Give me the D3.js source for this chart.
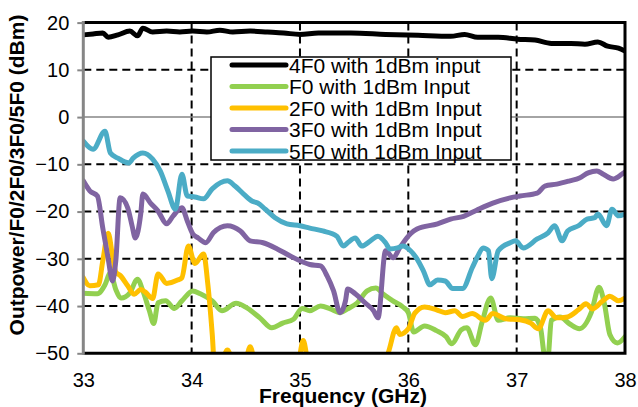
<!DOCTYPE html>
<html><head><meta charset="utf-8">
<script src="https://cdn.jsdelivr.net/npm/d3@7"></script>
<style>html,body{margin:0;padding:0;background:#fff;} svg{display:block;font-family:"Liberation Sans",Arial,sans-serif;}</style>
</head><body><svg id="chart" width="638" height="407"></svg>
<script>
// ---- data ----
const xTicks = [33, 34, 35, 36, 37, 38];
const yTicks = [20, 10, 0, -10, -20, -30, -40, -50];
const xTitle = "Frequency (GHz)";
const yTitle = "Outpower/F0/2F0/3F0/5F0 (dBm)";
const seriesNames = ["4F0 with 1dBm input", "F0 with 1dBm Input", "2F0 with 1dBm Input", "3F0 with 1dBm Input", "5F0 with 1dBm Input"];
const seriesColors = ["#000000", "#92D050", "#FFC000", "#8064A2", "#4BACC6"];

// [frequency GHz, power dBm]
const data4F0 = [[33.00,17.4],[33.09,17.6],[33.18,17.8],[33.23,16.9],[33.32,17.4],[33.43,18.2],[33.50,17.2],[33.55,18.8],[33.64,18.0],[33.77,18.2],[33.89,18.0],[34.01,18.2],[34.14,18.0],[34.26,18.4],[34.38,18.0],[34.54,18.2],[34.70,18.0],[34.85,17.8],[35.00,17.5],[35.17,17.8],[35.47,17.8],[35.79,17.5],[36.09,17.3],[36.39,17.1],[36.52,17.5],[36.64,16.9],[36.83,16.9],[37.01,16.5],[37.17,16.3],[37.32,15.6],[37.50,15.6],[37.63,15.4],[37.75,15.9],[37.84,15.0],[37.94,14.6],[38.00,14.0]];
const dataF0 = [[33.00,-37.3],[33.13,-37.4],[33.20,-35.5],[33.25,-33.0],[33.30,-36.5],[33.35,-38.3],[33.43,-37.2],[33.50,-34.3],[33.55,-36.8],[33.61,-41.0],[33.65,-43.7],[33.69,-39.3],[33.76,-38.9],[33.84,-40.5],[33.91,-38.9],[34.01,-36.8],[34.08,-37.4],[34.19,-38.9],[34.28,-41.0],[34.41,-39.4],[34.51,-40.4],[34.63,-42.5],[34.74,-44.6],[34.84,-43.6],[34.94,-42.8],[35.02,-40.5],[35.09,-41.0],[35.19,-40.0],[35.28,-40.6],[35.37,-41.4],[35.44,-40.6],[35.53,-39.3],[35.62,-36.8],[35.70,-36.2],[35.77,-37.5],[35.85,-38.8],[35.95,-40.2],[36.00,-41.4],[36.05,-45.5],[36.15,-44.2],[36.26,-45.2],[36.35,-46.5],[36.40,-48.0],[36.49,-45.0],[36.54,-44.6],[36.62,-48.2],[36.68,-43.5],[36.76,-38.3],[36.83,-43.0],[36.94,-42.5],[37.06,-42.7],[37.17,-42.6],[37.22,-44.6],[37.26,-50.5],[37.29,-50.5],[37.32,-43.0],[37.40,-42.3],[37.49,-43.8],[37.58,-44.8],[37.69,-41.3],[37.76,-36.0],[37.81,-39.5],[37.86,-46.0],[37.93,-47.8],[38.00,-46.5]];
const data2F0 = [[33.00,-34.0],[33.06,-35.7],[33.14,-35.5],[33.18,-30.4],[33.23,-24.6],[33.27,-29.5],[33.30,-32.8],[33.34,-33.5],[33.41,-35.7],[33.47,-37.5],[33.53,-36.5],[33.57,-37.0],[33.64,-38.4],[33.69,-33.2],[33.77,-35.2],[33.87,-34.5],[33.91,-34.0],[33.97,-27.3],[34.03,-31.0],[34.11,-29.0],[34.15,-35.5],[34.19,-45.9],[34.21,-52.0],[34.27,-52.0],[34.33,-49.3],[34.39,-52.0],[34.49,-52.0],[34.54,-48.6],[34.59,-52.0],[34.98,-52.0],[35.03,-47.3],[35.08,-52.0],[35.77,-53.0],[35.82,-49.5],[35.89,-44.6],[35.92,-46.0],[36.00,-44.8],[36.06,-41.5],[36.15,-40.2],[36.26,-40.8],[36.34,-41.4],[36.43,-41.0],[36.50,-42.2],[36.59,-41.6],[36.71,-43.0],[36.78,-41.6],[36.90,-42.7],[37.03,-42.9],[37.13,-43.6],[37.20,-44.8],[37.29,-41.0],[37.37,-42.5],[37.47,-42.3],[37.57,-40.8],[37.64,-39.5],[37.70,-40.6],[37.79,-39.0],[37.86,-37.9],[37.94,-38.9],[38.00,-38.3]];
const data3F0 = [[33.00,-13.5],[33.06,-15.6],[33.13,-16.7],[33.18,-23.5],[33.23,-30.0],[33.27,-34.7],[33.30,-30.4],[33.34,-17.1],[33.41,-19.2],[33.45,-23.0],[33.48,-25.6],[33.53,-20.5],[33.55,-16.3],[33.62,-18.2],[33.69,-19.9],[33.77,-22.6],[33.83,-20.9],[33.91,-19.2],[33.96,-22.0],[34.01,-24.7],[34.06,-25.6],[34.13,-26.6],[34.20,-24.5],[34.33,-23.0],[34.45,-24.1],[34.54,-26.2],[34.66,-26.6],[34.79,-27.9],[34.91,-29.4],[35.09,-31.2],[35.19,-31.5],[35.25,-33.6],[35.31,-36.8],[35.37,-41.4],[35.42,-38.9],[35.44,-36.4],[35.51,-37.4],[35.60,-39.3],[35.68,-41.0],[35.72,-42.5],[35.79,-28.3],[35.86,-29.8],[35.92,-27.7],[36.02,-24.7],[36.08,-23.7],[36.27,-22.6],[36.39,-21.6],[36.51,-21.0],[36.63,-19.7],[36.78,-18.2],[36.94,-17.1],[37.03,-16.7],[37.19,-16.1],[37.26,-14.6],[37.37,-14.2],[37.49,-13.5],[37.58,-12.9],[37.66,-11.8],[37.74,-11.4],[37.80,-12.1],[37.89,-13.1],[37.97,-12.1],[38.00,-11.6]];
const data5F0 = [[33.00,-5.1],[33.09,-6.8],[33.20,-3.0],[33.25,-7.6],[33.32,-8.7],[33.42,-9.7],[33.46,-8.7],[33.55,-7.6],[33.64,-8.9],[33.71,-11.4],[33.78,-15.6],[33.85,-19.5],[33.91,-12.1],[33.96,-16.7],[34.03,-16.9],[34.11,-17.3],[34.19,-15.2],[34.33,-13.5],[34.40,-14.6],[34.48,-16.3],[34.56,-17.8],[34.61,-18.2],[34.68,-19.5],[34.77,-21.3],[34.88,-22.6],[35.00,-23.0],[35.09,-23.5],[35.21,-24.1],[35.34,-25.2],[35.40,-27.3],[35.44,-26.6],[35.51,-25.6],[35.57,-27.3],[35.65,-26.2],[35.72,-25.2],[35.79,-26.6],[35.83,-27.9],[35.90,-27.7],[35.95,-27.3],[36.02,-28.3],[36.08,-30.0],[36.14,-32.6],[36.20,-35.5],[36.27,-34.5],[36.34,-34.7],[36.41,-36.3],[36.50,-36.3],[36.59,-31.9],[36.64,-29.5],[36.69,-27.7],[36.74,-28.3],[36.77,-34.2],[36.83,-28.3],[36.94,-26.6],[36.99,-26.2],[37.06,-27.7],[37.19,-25.8],[37.29,-24.5],[37.35,-23.0],[37.42,-26.2],[37.47,-24.1],[37.57,-23.0],[37.65,-21.6],[37.72,-21.3],[37.75,-20.5],[37.83,-23.0],[37.88,-19.5],[37.94,-20.9],[38.00,-20.5]];
const seriesData = [data4F0, dataF0, data2F0, data3F0, data5F0];

// ---- layout ----
const FONT = "'Liberation Sans', Arial, sans-serif";
const L = 83.3, R = 625, T = 22.6, B = 353.3;
const svg = d3.select("#chart");
const x = d3.scaleLinear().domain([33, 38]).range([L, R]);
const y = d3.scaleLinear().domain([-50, 20]).range([B, T]);

svg.append("defs").append("clipPath").attr("id", "plotclip")
  .append("rect").attr("x", L).attr("y", T).attr("width", R - L).attr("height", B - T);

// gridlines
const grid = svg.append("g").attr("stroke", "#000").attr("stroke-width", 2).attr("stroke-dasharray", "8,5");
grid.selectAll("line.h").data(yTicks.filter(v => v !== 20 && v !== 0 && v !== -50)).join("line")
  .attr("class", "h").attr("x1", L).attr("x2", R).attr("y1", d => y(d)).attr("y2", d => y(d));
grid.selectAll("line.v").data(xTicks.filter(v => v !== 33 && v !== 38)).join("line")
  .attr("class", "v").attr("y1", T).attr("y2", B).attr("x1", d => x(d)).attr("x2", d => x(d));

// zero line
svg.append("line").attr("x1", L).attr("x2", R).attr("y1", y(0)).attr("y2", y(0))
  .attr("stroke", "#868686").attr("stroke-width", 1.5);

// series
const line = d3.line().x(d => x(d[0])).y(d => y(d[1])).curve(d3.curveMonotoneX);
const plot = svg.append("g").attr("clip-path", "url(#plotclip)");
seriesData.forEach((s, i) => {
  plot.append("path").datum(s).attr("d", line).attr("fill", "none")
    .attr("stroke", seriesColors[i]).attr("stroke-width", 5)
    .attr("stroke-linejoin", "round").attr("stroke-linecap", "round");
});

// frame
svg.append("path").attr("fill", "none").attr("d", `M${L},${T}H${R}V${B}H${L}`)
  .attr("stroke", "#000").attr("stroke-width", 3);

// y axis
const yAxis = svg.append("g").attr("transform", `translate(${L},0)`)
  .call(d3.axisLeft(y).tickValues(yTicks).tickFormat(d3.format("d")).tickSize(6).tickPadding(8));
yAxis.select(".domain").attr("stroke", "#868686").attr("stroke-width", 3).attr("d", `M0,${T - 1.5}V${B + 1.5}`);
yAxis.selectAll(".tick line").attr("stroke", "#868686").attr("stroke-width", 2);
yAxis.selectAll(".tick text").attr("font-size", 20).attr("font-family", FONT).attr("fill", "#000");

// x axis
const xAxis = svg.append("g").attr("transform", `translate(0,${B})`)
  .call(d3.axisBottom(x).tickValues(xTicks).tickFormat(d3.format("d")).tickSize(0).tickPadding(19.5));
xAxis.select(".domain").remove();
xAxis.selectAll(".tick text").attr("font-size", 20).attr("font-family", FONT).attr("fill", "#000");

// titles
svg.append("text").attr("x", 343).attr("y", 403).attr("text-anchor", "middle").attr("font-family", FONT)
  .attr("font-size", 21).attr("font-weight", "bold").text(xTitle);
svg.append("text").attr("transform", "translate(24,175) rotate(-90)").attr("text-anchor", "middle").attr("font-family", FONT)
  .attr("font-size", 21).attr("font-weight", "bold").text(yTitle);

// legend
const lg = svg.append("g");
lg.append("rect").attr("x", 211).attr("y", 57).attr("width", 300).attr("height", 103)
  .attr("fill", "#fff").attr("stroke", "#000").attr("stroke-width", 1.5);
const rowY = d3.scalePoint().domain(d3.range(seriesNames.length)).range([65, 151]);
seriesNames.forEach((n, i) => {
  lg.append("line").attr("x1", 232).attr("x2", 286).attr("y1", rowY(i)).attr("y2", rowY(i))
    .attr("stroke", seriesColors[i]).attr("stroke-width", 5).attr("stroke-linecap", "round");
  lg.append("text").attr("x", 289).attr("y", rowY(i) + 7.5).attr("font-family", FONT).attr("font-size", 21).text(n);
});
</script></body></html>
